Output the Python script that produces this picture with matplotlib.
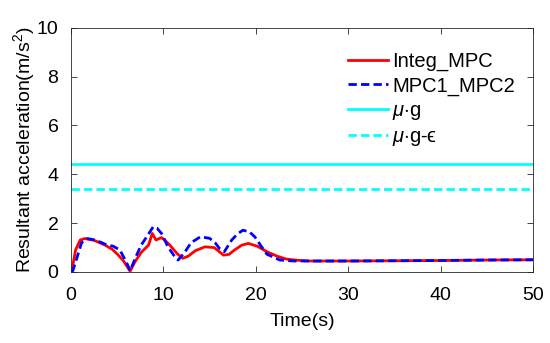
import numpy as np
import matplotlib.pyplot as plt

plt.rcParams['font.family'] = ['Liberation Sans', 'DejaVu Sans']
plt.rcParams['mathtext.fontset'] = 'custom'
plt.rcParams['mathtext.it'] = 'Liberation Sans:italic'
plt.rcParams['mathtext.rm'] = 'Liberation Sans'

# Integ_MPC (red solid)
t_integ = [0, 0.1, 0.5, 1.0, 1.5, 2.5, 3.7, 4.5, 5.1, 5.7, 6.4, 6.9, 7.6, 8.4, 8.8, 9.2, 9.8,
           10.3, 10.7, 11.5, 12.1, 12.7, 13.5, 14.5, 15.5, 16.0, 16.5, 17.1, 17.7, 18.5,
           19.2, 20.2, 21.2, 22.3, 23.3, 24.5, 25.8, 28, 30, 35, 40, 45, 50]
a_integ = [0, 0.05, 0.9, 1.31, 1.37, 1.3, 1.1, 0.92, 0.7, 0.45, 0.03, 0.4, 0.8, 1.1, 1.58,
           1.31, 1.41, 1.25, 1.1, 0.75, 0.56, 0.65, 0.88, 1.03, 1.0, 0.85, 0.69, 0.72, 0.9,
           1.1, 1.17, 1.05, 0.83, 0.65, 0.53, 0.48, 0.45, 0.45, 0.45, 0.46, 0.47, 0.49, 0.5]

# MPC1_MPC2 (blue dashed)
t_mpc = [0, 0.2, 0.5, 1.15, 1.8, 2.7, 3.7, 4.6, 5.3, 6.0, 6.4, 7.0, 7.6, 8.3, 8.9, 9.3, 9.8,
         10.5, 11.1, 11.6, 12.3, 13.0, 14.0, 15.0, 15.6, 16.1, 16.6, 17.4, 18.0, 18.6, 19.3,
         19.9, 20.6, 21.2, 22.6, 24.1, 26, 30, 35, 40, 45, 50]
a_mpc = [0.05, 0.05, 0.4, 1.2, 1.37, 1.3, 1.14, 1.05, 0.9, 0.4, 0.05, 0.6, 1.1, 1.5, 1.85,
         1.8, 1.58, 1.03, 0.7, 0.49, 0.8, 1.2, 1.44, 1.38, 1.2, 0.95, 0.83, 1.31, 1.55, 1.71,
         1.65, 1.44, 1.05, 0.73, 0.49, 0.45, 0.45, 0.45, 0.46, 0.47, 0.49, 0.5]

mu_g = 4.41
mu_g_eps = 3.41

fig = plt.figure(figsize=(5.5, 3.43), dpi=100)
ax = fig.add_axes([0.129, 0.207, 0.84, 0.712])

ax.plot(t_integ, a_integ, color='red', lw=2, label='Integ_MPC')
ax.plot(t_mpc, a_mpc, color='blue', lw=2, dashes=(3, 1.5), label='MPC1_MPC2')
ax.axhline(mu_g, color='cyan', lw=2, label=r'$\mu$$\cdot$g')
ax.axhline(mu_g_eps, color='cyan', lw=2, dashes=(3, 1.5), label='$\\mu$$\\cdot$g-ϵ')

ax.set_xlim(0, 50)
ax.set_ylim(0, 10)
ax.set_xticks([0, 10, 20, 30, 40, 50])
ax.set_yticks([0, 2, 4, 6, 8, 10])
ax.tick_params(direction='in', labelsize=14, colors='#262626', top=True, right=True,
               length=4, width=0.6)
ax.tick_params(axis='x', pad=11)
ax.tick_params(axis='y', pad=9)
for lab in ax.get_xticklabels() + ax.get_yticklabels():
    lab.set_color('black')
for s in ax.spines.values():
    s.set_color('#262626')
    s.set_linewidth(0.6)

ax.set_xlabel('Time(s)', fontsize=14, labelpad=6)
ax.set_ylabel(r'Resultant acceleration(m/s$^2$)', fontsize=14, labelpad=0)

ax.legend(loc='upper right', bbox_to_anchor=(1.0, 0.975), frameon=False, fontsize=14.5,
          handlelength=2.0, handletextpad=0.2, labelspacing=0.25)

fig.savefig('out.png', dpi=100)
